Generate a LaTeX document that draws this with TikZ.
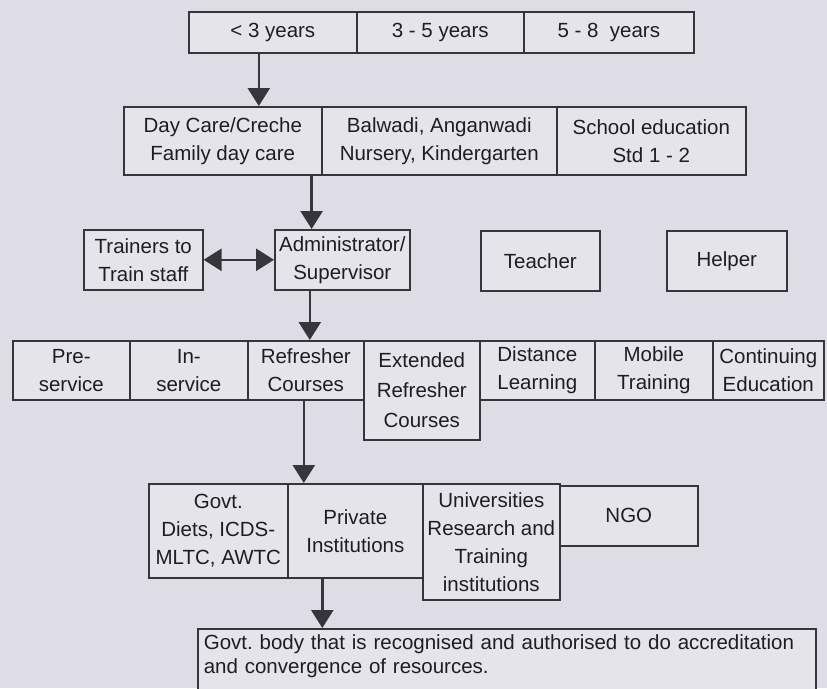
\documentclass[tikz,border=0pt]{standalone}
\usepackage{fontspec}
\setmainfont{Liberation Sans}
\usetikzlibrary{arrows.meta}
\definecolor{pagebg}{RGB}{222,221,229}
\definecolor{boxbg}{RGB}{229,228,235}
\definecolor{inkline}{RGB}{55,53,58}
\definecolor{inktext}{RGB}{30,30,34}
\frenchspacing
\begin{document}
\begin{tikzpicture}[x=1pt,y=-1pt]
\tikzset{>={Triangle[length=18pt,width=22pt]}}
\tikzset{cell/.style={draw=inkline, fill=boxbg, line width=1.6pt, inner sep=0pt, anchor=north west, align=center, text=inktext, font=\fontsize{20.5}{28}\selectfont}}
\tikzset{arr/.style={->, draw=inkline, fill=inkline, line width=2.6pt}}
\fill[pagebg] (0,0) rectangle (827,688);
\clip (0,0) rectangle (827,688);

\node[cell, minimum width=168pt, minimum height=41pt] (age1) at (188,11) {< 3 years};
\node[cell, minimum width=167pt, minimum height=41pt] (age2) at (356,11) {3 - 5 years};
\node[cell, minimum width=170pt, minimum height=41pt] (age3) at (523,11) {5 - 8\ \ years};

\node[cell, minimum width=198pt, minimum height=68pt] (care1) at (123,106) {Day Care/Creche\\Family day care};
\node[cell, minimum width=235pt, minimum height=68pt] (care2) at (321,106) {Balwadi, Anganwadi\\Nursery, Kindergarten};
\node[cell, minimum width=189pt, minimum height=68pt] (care3) at (556,106) {School education\\Std 1 - 2};

\draw[arr] ([xshift=-14pt]age1.south) -- ([xshift=-14pt]age1.south |- care1.north);

\node[cell, minimum width=119pt, minimum height=60pt] (trainer) at (83,229) {Trainers to\\Train staff};
\node[cell, minimum width=135pt, minimum height=60pt] (admin) at (274,229) {Administrator/\\Supervisor};
\node[cell, minimum width=119pt, minimum height=60pt] (teacher) at (480,230) {Teacher};
\node[cell, minimum width=120pt, minimum height=60pt] (helper) at (666,230) {Helper};

\draw[arr] ([xshift=-11pt]care1.south east) -- ([xshift=-11pt]care1.south east |- admin.north);
\draw[arr, <->] (trainer.east) -- (admin.west);

\node[cell, minimum width=117pt, minimum height=59pt] (presvc) at (12,340) {Pre-\\service};
\node[cell, minimum width=118pt, minimum height=59pt] (insvc) at (129,340) {In-\\service};
\node[cell, minimum width=116pt, minimum height=59pt] (refr) at (247,340) {Refresher\\Courses};
\node[cell, minimum width=116pt, minimum height=99pt, font=\fontsize{20.5}{30}\selectfont] (extref) at (363,340) {Extended\\Refresher\\Courses};
\node[cell, minimum width=115pt, minimum height=59pt] (dist) at (479,340) {Distance\\Learning};
\node[cell, minimum width=118pt, minimum height=59pt] (mobile) at (594,340) {Mobile\\Training};
\node[cell, minimum width=111pt, minimum height=59pt] (contin) at (712,340) {Continuing\\Education};

\draw[arr] ([xshift=4pt]admin.south -| refr.north) -- ([xshift=4pt]refr.north);

\node[cell, minimum width=139pt, minimum height=94pt] (govt) at (148,483) {Govt.\\Diets, ICDS-\\MLTC, AWTC};
\node[cell, minimum width=135pt, minimum height=94pt] (priv) at (287,483) {Private\\Institutions};
\node[cell, minimum width=137pt, minimum height=116pt] (univ) at (422,483) {Universities\\Research and\\Training\\institutions};
\node[cell, minimum width=138pt, minimum height=60pt] (ngo) at (559,485) {NGO};

\draw[arr] ([xshift=-2pt]refr.south) -- ([xshift=-2pt]refr.south |- priv.north);

\node[cell, text width=606pt, inner sep=6pt, align=left, text depth=50pt, font=\fontsize{20.5}{24}\selectfont] (accr) at (197,628) {Govt. body that is recognised and authorised to do accreditation\\and convergence of resources.};

\draw[arr] ([xshift=-33pt]priv.south) -- ([xshift=-33pt]priv.south |- accr.north);

\end{tikzpicture}
\end{document}
